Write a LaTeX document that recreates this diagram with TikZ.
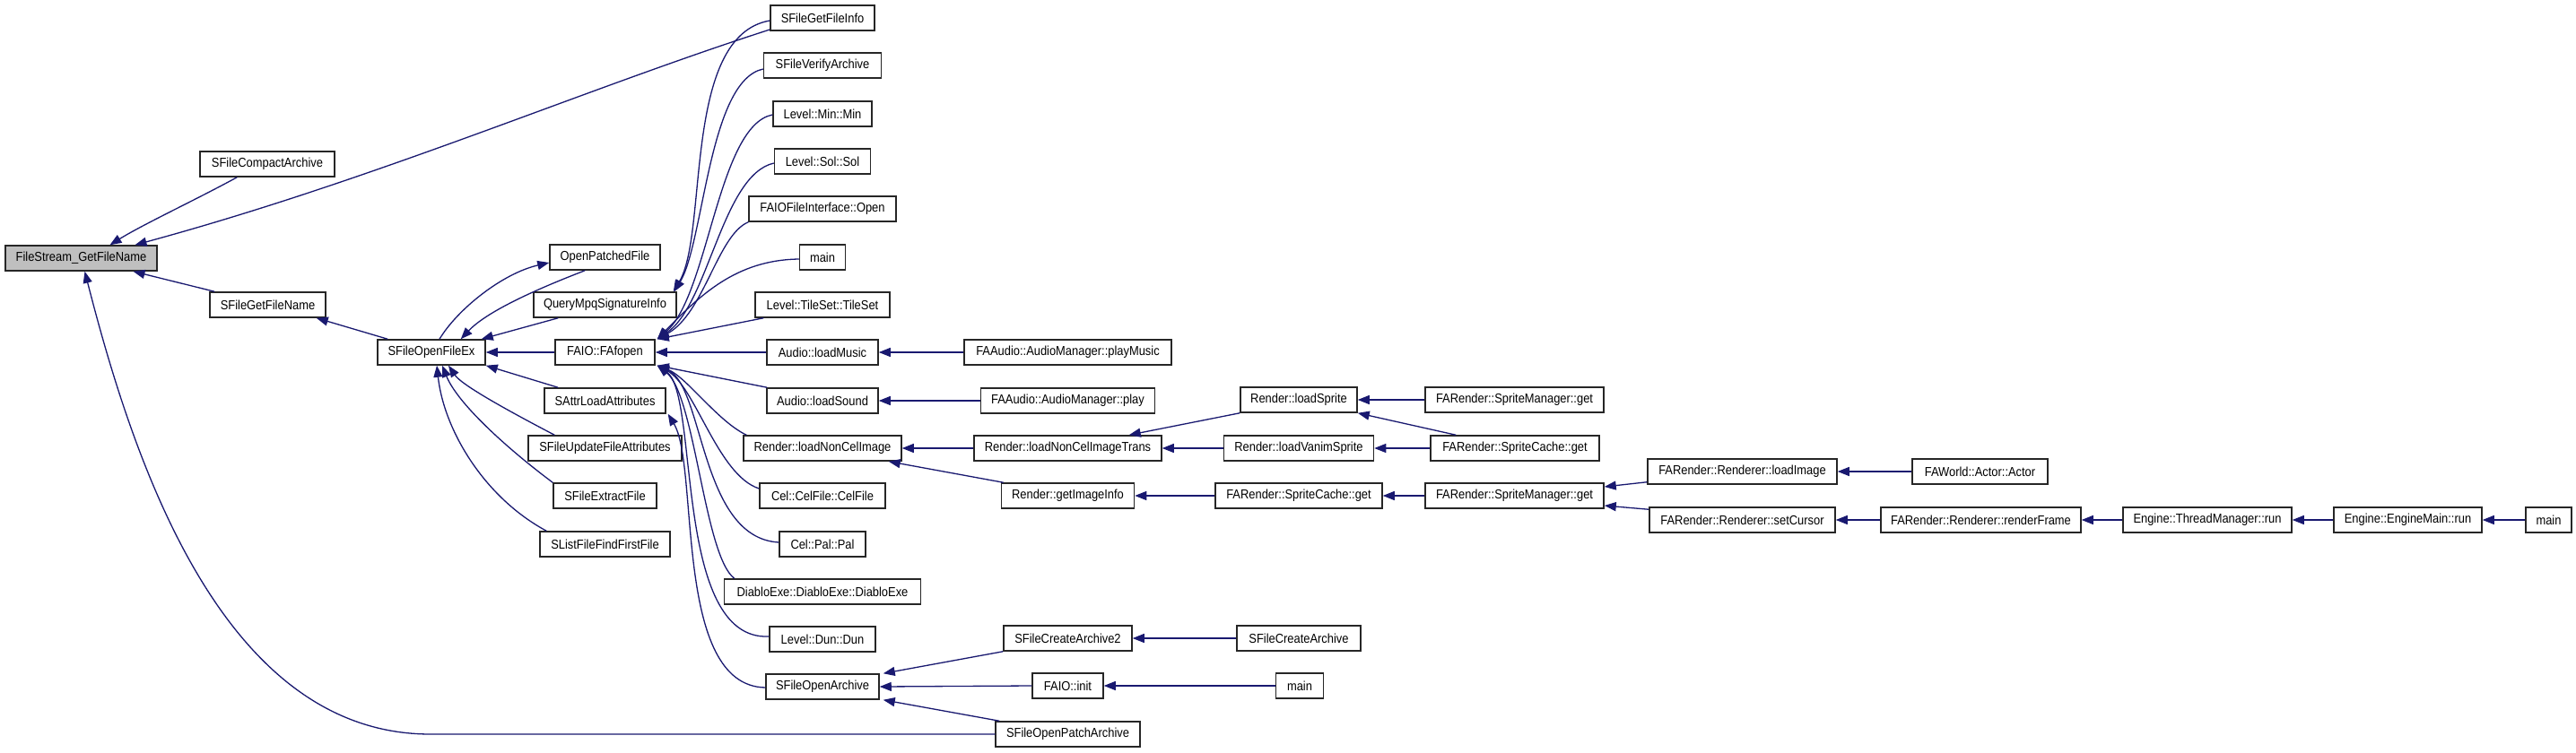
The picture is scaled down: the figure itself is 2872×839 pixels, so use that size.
\documentclass[tikz,border=0pt]{standalone}
\usepackage{fontspec}
\setmainfont{Liberation Sans}[FakeStretch=0.89]
\usepackage{xcolor}
\usepackage{tikz}
\usetikzlibrary{arrows.meta}
\definecolor{edgeblue}{HTML}{191970}
\definecolor{rootgray}{HTML}{BFBFBF}

\begin{document}
\begin{tikzpicture}[
    x=1pt, y=-1pt,
    >={Triangle[length=13pt,width=10pt]},
    fn/.style={draw=black!85, line width=1.5pt, fill=white, minimum height=28pt, inner sep=0pt, font=\fontsize{14.5}{16}\selectfont},
    root/.style={fill=rootgray},
    call/.style={->, draw=edgeblue, line width=1.3pt}
]
\useasboundingbox[fill=white] (0,0) rectangle (2872,839);
\node[fn, root, minimum width=169pt] (fsget) at (90.5,288) {FileStream\_GetFileName};
\node[fn, minimum width=150pt] (compact) at (298,183) {SFileCompactArchive};
\node[fn, minimum width=129pt] (getname) at (298.5,340) {SFileGetFileName};
\node[fn, minimum width=120pt] (openex) at (481,393) {SFileOpenFileEx};
\node[fn, minimum width=123pt] (patched) at (674.5,287) {OpenPatchedFile};
\node[fn, minimum width=159pt] (query) at (674.5,340) {QueryMpqSignatureInfo};
\node[fn, minimum width=111pt] (fafopen) at (674.5,393) {FAIO::FAfopen};
\node[fn, minimum width=135pt] (attrload) at (674.5,447) {SAttrLoadAttributes};
\node[fn, minimum width=171pt] (updattr) at (674.5,500) {SFileUpdateFileAttributes};
\node[fn, minimum width=115pt] (extract) at (674.5,553) {SFileExtractFile};
\node[fn, minimum width=145pt] (listfirst) at (674.5,607) {SListFileFindFirstFile};
\node[fn, minimum width=116pt] (getinfo) at (917,20) {SFileGetFileInfo};
\node[fn, minimum width=131pt] (verify) at (917,73) {SFileVerifyArchive};
\node[fn, minimum width=110pt] (lvlmin) at (917,127) {Level::Min::Min};
\node[fn, minimum width=107pt] (lvlsol) at (917,180) {Level::Sol::Sol};
\node[fn, minimum width=164pt] (faioopen) at (917,233) {FAIOFileInterface::Open};
\node[fn, minimum width=51pt] (mainA) at (917,287) {main};
\node[fn, minimum width=150pt] (tileset) at (917,340) {Level::TileSet::TileSet};
\node[fn, minimum width=124pt] (loadmusic) at (917,393) {Audio::loadMusic};
\node[fn, minimum width=124pt] (loadsound) at (917,447) {Audio::loadSound};
\node[fn, minimum width=176pt] (noncel) at (917,500) {Render::loadNonCelImage};
\node[fn, minimum width=140pt] (celfile) at (917,553) {Cel::CelFile::CelFile};
\node[fn, minimum width=96pt] (pal) at (917,607) {Cel::Pal::Pal};
\node[fn, minimum width=219pt] (diablo) at (917,660) {DiabloExe::DiabloExe::DiabloExe};
\node[fn, minimum width=118pt] (dun) at (917,713) {Level::Dun::Dun};
\node[fn, minimum width=126pt] (openarch) at (917,766) {SFileOpenArchive};
\node[fn, minimum width=231pt] (playmusic) at (1190.5,393) {FAAudio::AudioManager::playMusic};
\node[fn, minimum width=194pt] (play) at (1190.5,447) {FAAudio::AudioManager::play};
\node[fn, minimum width=209pt] (noncelT) at (1190.5,500) {Render::loadNonCelImageTrans};
\node[fn, minimum width=148pt] (imginfo) at (1190.5,553) {Render::getImageInfo};
\node[fn, minimum width=143pt] (create2) at (1190.5,712) {SFileCreateArchive2};
\node[fn, minimum width=79pt] (faioinit) at (1190.5,765) {FAIO::init};
\node[fn, minimum width=161pt] (openpatch) at (1190.5,819) {SFileOpenPatchArchive};
\node[fn, minimum width=130pt] (loadsprite) at (1448,446) {Render::loadSprite};
\node[fn, minimum width=167pt] (vanim) at (1448,500) {Render::loadVanimSprite};
\node[fn, minimum width=186pt] (scacheB) at (1448,553) {FARender::SpriteCache::get};
\node[fn, minimum width=138pt] (createarch) at (1448,712) {SFileCreateArchive};
\node[fn, minimum width=53pt] (mainB) at (1449,765) {main};
\node[fn, minimum width=199pt] (smgrA) at (1688.5,446) {FARender::SpriteManager::get};
\node[fn, minimum width=188pt] (scacheA) at (1689,500) {FARender::SpriteCache::get};
\node[fn, minimum width=199pt] (smgrB) at (1688.5,553) {FARender::SpriteManager::get};
\node[fn, minimum width=211pt] (loadimage) at (1942.5,526) {FARender::Renderer::loadImage};
\node[fn, minimum width=207pt] (setcursor) at (1942.5,580) {FARender::Renderer::setCursor};
\node[fn, minimum width=151pt] (actor) at (2207.5,526) {FAWorld::Actor::Actor};
\node[fn, minimum width=223pt] (render) at (2208.5,580) {FARender::Renderer::renderFrame};
\node[fn, minimum width=188pt] (thread) at (2461,580) {Engine::ThreadManager::run};
\node[fn, minimum width=165pt] (enginemain) at (2684.5,580) {Engine::EngineMain::run};
\node[fn, minimum width=51pt] (mainC) at (2841.5,580) {main};
\draw[call] ([xshift=42pt]compact.south west) .. controls (220,222) and (160,250) .. ([xshift=32pt]fsget.north);
\draw[call] ([yshift=-13pt]getinfo.west) .. controls (650,100) and (420,200) .. ([xshift=60pt]fsget.north);
\draw[call] ([xshift=6pt]getname.north west) -- ([xshift=58pt]fsget.south);
\draw[call] (openpatch.west) -- (480,819) .. controls (250,819) and (150,520) .. ([xshift=4pt]fsget.south);
\draw[call] ([xshift=12pt]openex.north west) -- ([xshift=-11pt]getname.south east);
\draw[call] ([xshift=40pt]patched.south west) .. controls (610,318) and (545,345) .. ([xshift=-28pt]openex.north east);
\draw[call] ([xshift=9pt]openex.north) .. controls (510,345) and (560,305) .. ([yshift=-6pt]patched.west);
\draw[call] ([xshift=28pt]query.south west) -- ([xshift=-5pt]openex.north east);
\draw[call] (fafopen.west) -- (openex.east);
\draw[call] ([xshift=16pt]attrload.north west) -- (openex.south east);
\draw[call] ([xshift=30pt]updattr.north west) .. controls (570,460) and (515,430) .. ([xshift=19pt]openex.south);
\draw[call] (extract.north west) .. controls (565,500) and (510,450) .. ([xshift=12pt]openex.south);
\draw[call] ([xshift=8pt]listfirst.north west) .. controls (540,555) and (495,480) .. ([xshift=6pt]openex.south);
\draw[call] ([yshift=-3pt]getinfo.west) .. controls (760,40) and (790,260) .. ([xshift=-4pt]query.north east);
\draw[call] ([yshift=-4pt]verify.west) .. controls (790,90) and (785,270) .. ([xshift=-3pt]query.north east);
\draw[call] ([yshift=-1pt]lvlmin.west) .. controls (800,140) and (790,330) .. ([xshift=2pt]fafopen.north east);
\draw[call] ([yshift=-2pt]lvlsol.west) .. controls (805,195) and (790,340) .. ([xshift=2pt]fafopen.north east);
\draw[call] (faioopen.south west) .. controls (800,262) and (785,350) .. ([xshift=2pt]fafopen.north east);
\draw[call] ([yshift=-2pt]mainA.west) .. controls (820,290) and (780,330) .. ([xshift=2pt]fafopen.north east);
\draw[call] ([xshift=10pt]tileset.south west) -- ([xshift=2pt]fafopen.north east);
\draw[call] (loadmusic.west) -- (fafopen.east);
\draw[call] ([xshift=1pt]loadsound.north west) -- ([xshift=2pt]fafopen.south east);
\draw[call] ([xshift=4pt]noncel.north west) .. controls (800,470) and (765,420) .. ([xshift=2pt]fafopen.south east);
\draw[call] ([yshift=8pt]celfile.west) .. controls (800,530) and (775,430) .. ([xshift=2pt]fafopen.south east);
\draw[call] ([yshift=2pt]pal.west) .. controls (780,600) and (785,430) .. ([xshift=2pt]fafopen.south east);
\draw[call] ([xshift=12pt]diablo.north west) .. controls (785,620) and (775,440) .. ([xshift=2pt]fafopen.south east);
\draw[call] ([yshift=3pt]dun.west) .. controls (750,715) and (780,440) .. ([xshift=2pt]fafopen.south east);
\draw[call] ([yshift=-1pt]openarch.west) .. controls (750,765) and (780,520) .. ([xshift=2pt]attrload.south east);
\draw[call] (playmusic.west) -- (loadmusic.east);
\draw[call] (play.west) -- (loadsound.east);
\draw[call] (noncelT.west) -- (noncel.east);
\draw[call] ([xshift=3pt]imginfo.north west) -- ([xshift=-15pt]noncel.south east);
\draw[call] (loadsprite.south west) -- ([xshift=-37pt]noncelT.north east);
\draw[call] (vanim.west) -- (noncelT.east);
\draw[call] (smgrA.west) -- (loadsprite.east);
\draw[call] ([xshift=29pt]scacheA.north west) -- (loadsprite.south east);
\draw[call] (scacheA.west) -- (vanim.east);
\draw[call] (scacheB.west) -- (imginfo.east);
\draw[call] (smgrB.west) -- (scacheB.east);
\draw[call] ([yshift=3pt]loadimage.south west) -- ([yshift=10pt]smgrB.east);
\draw[call] ([yshift=-3pt]setcursor.north west) -- ([yshift=-11pt]smgrB.east);
\draw[call] (actor.west) -- (loadimage.east);
\draw[call] (render.west) -- (setcursor.east);
\draw[call] (thread.west) -- (render.east);
\draw[call] (enginemain.west) -- (thread.east);
\draw[call] (mainC.west) -- (enginemain.east);
\draw[call] (createarch.west) -- (create2.east);
\draw[call] (create2.south west) -- ([xshift=4pt]openarch.north east);
\draw[call] (faioinit.west) -- (openarch.east);
\draw[call] (mainB.west) -- (faioinit.east);
\draw[call] ([xshift=5pt]openpatch.north west) -- ([xshift=4pt]openarch.south east);
\end{tikzpicture}
\end{document}
